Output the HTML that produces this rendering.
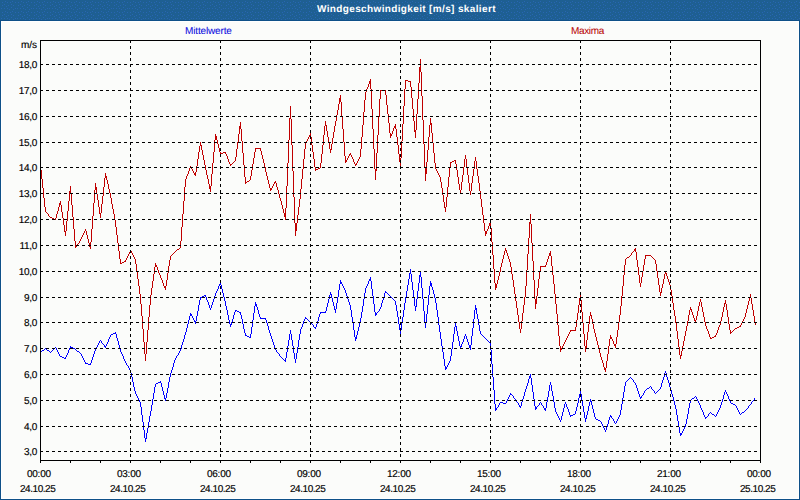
<!DOCTYPE html>
<html><head><meta charset="utf-8"><style>
html,body{margin:0;padding:0;width:800px;height:500px;overflow:hidden;background:#fbfcfa}
.t{position:absolute;font-family:"Liberation Sans",sans-serif;white-space:nowrap;color:#000;-webkit-text-stroke:0.15px currentColor;text-rendering:geometricPrecision;font-size:10px;line-height:16px}
.r{text-align:right}
</style></head><body>
<svg width="800" height="500" viewBox="0 0 800 500" shape-rendering="crispEdges" style="position:absolute;left:0;top:0"><rect x="0" y="0" width="800" height="500" fill="#fbfcfa"/><defs><pattern id="dz" width="16" height="10" patternUnits="userSpaceOnUse"><rect width="16" height="10" fill="#1e5f92"/><path fill="#2866b2" d="M5 1h1v1h-1zM12 1h1v1h-1zM2 2h1v1h-1zM7 2h1v1h-1zM10 2h1v1h-1zM15 2h1v1h-1zM4 4h1v1h-1zM11 4h1v1h-1zM2 5h1v1h-1zM8 5h1v1h-1zM13 5h1v1h-1zM6 6h1v1h-1zM11 7h1v1h-1zM1 8h1v1h-1zM4 8h1v1h-1zM7 8h1v1h-1zM15 8h1v1h-1zM9 9h1v1h-1zM13 9h1v1h-1z"/></pattern></defs><rect x="0" y="0" width="800" height="20" fill="url(#dz)"/><path fill="#fff" d="M1 21h798v1h-798zM1 21h1v478h-1zM798 21h1v478h-1zM1 498h798v1h-798z"/><rect x="0" y="20" width="800" height="1" fill="#0e5088"/><rect x="0" y="20" width="1" height="480" fill="#0e5088"/><rect x="799" y="20" width="1" height="480" fill="#0e5088"/><rect x="0" y="499" width="800" height="1" fill="#0e5088"/><path fill="#c00000" d="M40 165h1v5h-1zM41 170h1v9h-1zM42 179h1v9h-1zM43 188h1v10h-1zM44 198h1v9h-1zM45 207h1v5h-1zM48 214h1v2h-1zM55 218h1v2h-1zM56 214h1v4h-1zM57 211h1v3h-1zM58 207h1v4h-1zM59 203h1v4h-1zM60 201h1v4h-1zM61 205h1v7h-1zM62 212h1v6h-1zM63 218h1v7h-1zM64 225h1v7h-1zM65 231h1v5h-1zM66 221h1v10h-1zM67 211h1v10h-1zM68 201h1v10h-1zM69 191h1v10h-1zM70 186h1v7h-1zM71 193h1v12h-1zM72 205h1v12h-1zM73 217h1v12h-1zM74 229h1v12h-1zM75 241h1v7h-1zM76 245h1v2h-1zM79 241h1v2h-1zM80 239h1v2h-1zM81 237h1v2h-1zM82 235h1v2h-1zM83 233h1v2h-1zM84 231h1v2h-1zM85 229h1v2h-1zM86 231h1v4h-1zM87 235h1v4h-1zM88 239h1v4h-1zM89 243h1v4h-1zM90 242h1v7h-1zM91 229h1v13h-1zM92 216h1v13h-1zM93 203h1v13h-1zM94 190h1v13h-1zM95 183h1v7h-1zM96 187h1v7h-1zM97 194h1v6h-1zM98 200h1v7h-1zM99 207h1v7h-1zM100 213h1v5h-1zM101 204h1v9h-1zM102 196h1v8h-1zM103 187h1v9h-1zM104 178h1v9h-1zM105 173h1v5h-1zM106 176h1v4h-1zM107 180h1v4h-1zM108 184h1v5h-1zM109 189h1v4h-1zM110 193h1v5h-1zM111 198h1v6h-1zM112 204h1v5h-1zM113 209h1v5h-1zM114 214h1v6h-1zM115 220h1v7h-1zM116 227h1v8h-1zM117 235h1v8h-1zM118 243h1v8h-1zM119 251h1v8h-1zM120 259h1v5h-1zM125 260h1v2h-1zM126 258h1v2h-1zM127 256h1v2h-1zM128 254h1v2h-1zM129 252h1v2h-1zM130 250h1v2h-1zM131 251h1v2h-1zM132 253h1v2h-1zM133 255h1v2h-1zM134 257h1v2h-1zM135 259h1v5h-1zM136 264h1v8h-1zM137 272h1v7h-1zM138 279h1v7h-1zM139 286h1v8h-1zM140 294h1v10h-1zM141 304h1v12h-1zM142 316h1v13h-1zM143 329h1v13h-1zM144 342h1v12h-1zM145 354h1v7h-1zM146 342h1v12h-1zM147 330h1v12h-1zM148 317h1v13h-1zM149 305h1v12h-1zM150 295h1v10h-1zM151 288h1v7h-1zM152 281h1v7h-1zM153 274h1v7h-1zM154 267h1v7h-1zM155 263h1v4h-1zM156 265h1v2h-1zM157 267h1v3h-1zM158 270h1v3h-1zM159 273h1v2h-1zM160 275h1v3h-1zM161 278h1v2h-1zM162 280h1v3h-1zM163 283h1v3h-1zM164 286h1v2h-1zM165 286h1v4h-1zM166 280h1v6h-1zM167 273h1v7h-1zM168 266h1v7h-1zM169 260h1v6h-1zM170 256h1v4h-1zM180 241h1v7h-1zM181 227h1v14h-1zM182 214h1v13h-1zM183 201h1v13h-1zM184 187h1v14h-1zM185 179h1v8h-1zM186 176h1v3h-1zM187 174h1v2h-1zM188 171h1v3h-1zM189 168h1v3h-1zM190 166h1v2h-1zM191 167h1v2h-1zM192 169h1v2h-1zM193 171h1v2h-1zM194 173h1v2h-1zM195 172h1v4h-1zM196 166h1v6h-1zM197 159h1v7h-1zM198 152h1v7h-1zM199 146h1v6h-1zM200 142h1v4h-1zM201 145h1v5h-1zM202 150h1v5h-1zM203 155h1v5h-1zM204 160h1v5h-1zM205 165h1v5h-1zM206 170h1v5h-1zM207 175h1v4h-1zM208 179h1v5h-1zM209 184h1v5h-1zM210 186h1v6h-1zM211 174h1v12h-1zM212 163h1v11h-1zM213 152h1v11h-1zM214 140h1v12h-1zM215 134h1v6h-1zM216 136h1v4h-1zM217 140h1v4h-1zM218 144h1v4h-1zM219 148h1v4h-1zM220 152h1v2h-1zM225 152h1v2h-1zM226 154h1v2h-1zM227 156h1v3h-1zM228 159h1v3h-1zM229 162h1v2h-1zM230 164h1v2h-1zM235 157h1v4h-1zM236 149h1v8h-1zM237 142h1v7h-1zM238 134h1v8h-1zM239 126h1v8h-1zM240 122h1v7h-1zM241 129h1v12h-1zM242 141h1v12h-1zM243 153h1v12h-1zM244 165h1v12h-1zM245 177h1v7h-1zM250 176h1v4h-1zM251 170h1v6h-1zM252 164h1v6h-1zM253 158h1v6h-1zM254 152h1v6h-1zM255 148h1v4h-1zM260 148h1v3h-1zM261 151h1v4h-1zM262 155h1v4h-1zM263 159h1v4h-1zM264 163h1v4h-1zM265 167h1v5h-1zM266 172h1v4h-1zM267 176h1v4h-1zM268 180h1v4h-1zM269 184h1v4h-1zM270 188h1v3h-1zM271 188h1v2h-1zM272 186h1v2h-1zM273 184h1v2h-1zM274 182h1v2h-1zM275 181h1v2h-1zM276 183h1v4h-1zM277 187h1v3h-1zM278 190h1v4h-1zM279 194h1v4h-1zM280 198h1v3h-1zM281 201h1v4h-1zM282 205h1v4h-1zM283 209h1v4h-1zM284 213h1v4h-1zM285 208h1v12h-1zM286 186h1v22h-1zM287 163h1v23h-1zM288 140h1v23h-1zM289 118h1v22h-1zM290 106h1v13h-1zM291 119h1v26h-1zM292 145h1v26h-1zM293 171h1v26h-1zM294 197h1v26h-1zM295 223h1v13h-1zM296 223h1v8h-1zM297 215h1v8h-1zM298 207h1v8h-1zM299 199h1v8h-1zM300 189h1v10h-1zM301 179h1v10h-1zM302 169h1v10h-1zM303 159h1v10h-1zM304 149h1v10h-1zM305 143h1v6h-1zM306 141h1v2h-1zM307 139h1v2h-1zM308 137h1v2h-1zM309 135h1v2h-1zM310 133h1v4h-1zM311 137h1v8h-1zM312 145h1v7h-1zM313 152h1v7h-1zM314 159h1v8h-1zM315 167h1v4h-1zM320 163h1v5h-1zM321 154h1v9h-1zM322 145h1v9h-1zM323 135h1v10h-1zM324 126h1v9h-1zM325 121h1v5h-1zM326 125h1v6h-1zM327 131h1v6h-1zM328 137h1v6h-1zM329 143h1v6h-1zM330 149h1v4h-1zM331 144h1v6h-1zM332 138h1v6h-1zM333 132h1v6h-1zM334 126h1v6h-1zM335 121h1v5h-1zM336 115h1v6h-1zM337 110h1v5h-1zM338 104h1v6h-1zM339 98h1v6h-1zM340 95h1v7h-1zM341 102h1v14h-1zM342 116h1v13h-1zM343 129h1v13h-1zM344 142h1v14h-1zM345 156h1v7h-1zM346 160h1v2h-1zM347 158h1v2h-1zM348 156h1v2h-1zM349 154h1v2h-1zM350 153h1v2h-1zM351 155h1v2h-1zM352 157h1v2h-1zM353 159h1v3h-1zM354 162h1v2h-1zM355 164h1v2h-1zM356 163h1v2h-1zM357 161h1v2h-1zM358 159h1v2h-1zM359 157h1v2h-1zM360 149h1v8h-1zM361 137h1v12h-1zM362 125h1v12h-1zM363 112h1v13h-1zM364 100h1v12h-1zM365 92h1v8h-1zM366 89h1v3h-1zM367 87h1v2h-1zM368 84h1v3h-1zM369 81h1v3h-1zM370 79h1v10h-1zM371 89h1v20h-1zM372 109h1v20h-1zM373 129h1v20h-1zM374 149h1v20h-1zM375 169h1v11h-1zM376 153h1v18h-1zM377 135h1v18h-1zM378 117h1v18h-1zM379 99h1v18h-1zM380 90h1v9h-1zM385 90h1v5h-1zM386 95h1v10h-1zM387 105h1v9h-1zM388 114h1v9h-1zM389 123h1v10h-1zM390 133h1v5h-1zM391 134h1v2h-1zM392 131h1v3h-1zM393 128h1v3h-1zM394 126h1v2h-1zM395 124h1v5h-1zM396 129h1v8h-1zM397 137h1v8h-1zM398 145h1v9h-1zM399 154h1v8h-1zM400 158h1v9h-1zM401 141h1v17h-1zM402 124h1v17h-1zM403 106h1v18h-1zM404 89h1v17h-1zM405 80h1v9h-1zM410 81h1v6h-1zM411 87h1v11h-1zM412 98h1v11h-1zM413 109h1v12h-1zM414 121h1v11h-1zM415 130h1v8h-1zM416 114h1v16h-1zM417 99h1v15h-1zM418 83h1v16h-1zM419 67h1v16h-1zM420 59h1v13h-1zM421 72h1v24h-1zM422 96h1v24h-1zM423 120h1v24h-1zM424 144h1v24h-1zM425 168h1v13h-1zM426 162h1v12h-1zM427 150h1v12h-1zM428 137h1v13h-1zM429 125h1v12h-1zM430 118h1v7h-1zM431 123h1v10h-1zM432 133h1v10h-1zM433 143h1v10h-1zM434 153h1v10h-1zM435 163h1v6h-1zM436 169h1v2h-1zM437 171h1v2h-1zM438 173h1v2h-1zM439 175h1v2h-1zM440 177h1v5h-1zM441 182h1v6h-1zM442 188h1v7h-1zM443 195h1v7h-1zM444 202h1v6h-1zM445 207h1v5h-1zM446 197h1v10h-1zM447 187h1v10h-1zM448 177h1v10h-1zM449 167h1v10h-1zM450 162h1v5h-1zM455 160h1v4h-1zM456 164h1v6h-1zM457 170h1v7h-1zM458 177h1v7h-1zM459 184h1v6h-1zM460 190h1v4h-1zM461 182h1v8h-1zM462 175h1v7h-1zM463 167h1v8h-1zM464 159h1v8h-1zM465 155h1v4h-1zM466 159h1v8h-1zM467 167h1v8h-1zM468 175h1v8h-1zM469 183h1v8h-1zM470 191h1v4h-1zM471 183h1v8h-1zM472 176h1v7h-1zM473 169h1v7h-1zM474 161h1v8h-1zM475 157h1v4h-1zM476 161h1v8h-1zM477 169h1v7h-1zM478 176h1v7h-1zM479 183h1v8h-1zM480 191h1v8h-1zM481 199h1v8h-1zM482 207h1v8h-1zM483 215h1v8h-1zM484 223h1v8h-1zM485 231h1v5h-1zM486 231h1v3h-1zM487 229h1v2h-1zM488 226h1v3h-1zM489 223h1v3h-1zM490 221h1v7h-1zM491 228h1v14h-1zM492 242h1v13h-1zM493 255h1v14h-1zM494 269h1v14h-1zM495 283h1v7h-1zM496 284h1v4h-1zM497 280h1v4h-1zM498 276h1v4h-1zM499 272h1v4h-1zM500 267h1v5h-1zM501 263h1v4h-1zM502 259h1v4h-1zM503 255h1v4h-1zM504 251h1v4h-1zM505 248h1v3h-1zM506 250h1v3h-1zM507 253h1v3h-1zM508 256h1v3h-1zM509 259h1v3h-1zM510 262h1v5h-1zM511 267h1v7h-1zM512 274h1v6h-1zM513 280h1v7h-1zM514 287h1v7h-1zM515 294h1v7h-1zM516 301h1v7h-1zM517 308h1v7h-1zM518 315h1v7h-1zM519 322h1v7h-1zM520 329h1v4h-1zM521 321h1v8h-1zM522 313h1v8h-1zM523 305h1v8h-1zM524 297h1v8h-1zM525 286h1v11h-1zM526 270h1v16h-1zM527 254h1v16h-1zM528 238h1v16h-1zM529 222h1v16h-1zM530 214h1v10h-1zM531 224h1v19h-1zM532 243h1v18h-1zM533 261h1v19h-1zM534 280h1v19h-1zM535 299h1v10h-1zM536 296h1v8h-1zM537 288h1v8h-1zM538 279h1v9h-1zM539 271h1v8h-1zM540 266h1v5h-1zM545 265h1v2h-1zM546 262h1v3h-1zM547 259h1v3h-1zM548 256h1v3h-1zM549 253h1v3h-1zM550 251h1v5h-1zM551 256h1v10h-1zM552 266h1v9h-1zM553 275h1v9h-1zM554 284h1v10h-1zM555 294h1v10h-1zM556 304h1v10h-1zM557 314h1v11h-1zM558 325h1v11h-1zM559 336h1v10h-1zM560 346h1v6h-1zM561 348h1v2h-1zM562 346h1v2h-1zM563 344h1v2h-1zM564 342h1v2h-1zM565 340h1v2h-1zM566 338h1v2h-1zM567 336h1v2h-1zM568 334h1v2h-1zM569 332h1v2h-1zM570 330h1v2h-1zM575 327h1v4h-1zM576 320h1v7h-1zM577 313h1v7h-1zM578 305h1v8h-1zM579 298h1v7h-1zM580 294h1v6h-1zM581 300h1v12h-1zM582 312h1v11h-1zM583 323h1v11h-1zM584 334h1v12h-1zM585 346h1v6h-1zM586 340h1v8h-1zM587 332h1v8h-1zM588 324h1v8h-1zM589 316h1v8h-1zM590 312h1v4h-1zM591 315h1v4h-1zM592 319h1v5h-1zM593 324h1v5h-1zM594 329h1v4h-1zM595 333h1v4h-1zM596 337h1v4h-1zM597 341h1v4h-1zM598 345h1v4h-1zM599 349h1v4h-1zM600 353h1v4h-1zM601 357h1v3h-1zM602 360h1v3h-1zM603 363h1v4h-1zM604 367h1v3h-1zM605 368h1v4h-1zM606 361h1v7h-1zM607 354h1v7h-1zM608 346h1v8h-1zM609 339h1v7h-1zM610 335h1v4h-1zM611 337h1v2h-1zM612 339h1v2h-1zM613 341h1v3h-1zM614 344h1v2h-1zM615 344h1v4h-1zM616 337h1v7h-1zM617 330h1v7h-1zM618 322h1v8h-1zM619 315h1v7h-1zM620 306h1v9h-1zM621 296h1v10h-1zM622 286h1v10h-1zM623 275h1v11h-1zM624 265h1v10h-1zM625 259h1v6h-1zM631 253h1v2h-1zM634 249h1v2h-1zM635 248h1v4h-1zM636 252h1v8h-1zM637 260h1v7h-1zM638 267h1v8h-1zM639 275h1v8h-1zM640 283h1v4h-1zM641 277h1v6h-1zM642 271h1v6h-1zM643 265h1v6h-1zM644 259h1v6h-1zM645 255h1v4h-1zM655 260h1v4h-1zM656 264h1v7h-1zM657 271h1v7h-1zM658 278h1v7h-1zM659 285h1v7h-1zM660 292h1v4h-1zM661 288h1v5h-1zM662 284h1v4h-1zM663 279h1v5h-1zM664 274h1v5h-1zM665 271h1v3h-1zM666 273h1v3h-1zM667 276h1v3h-1zM668 279h1v3h-1zM669 282h1v3h-1zM670 285h1v5h-1zM671 290h1v6h-1zM672 296h1v7h-1zM673 303h1v7h-1zM674 310h1v6h-1zM675 316h1v7h-1zM676 323h1v8h-1zM677 331h1v8h-1zM678 339h1v8h-1zM679 347h1v8h-1zM680 355h1v4h-1zM681 351h1v5h-1zM682 346h1v5h-1zM683 341h1v5h-1zM684 336h1v5h-1zM685 331h1v5h-1zM686 326h1v5h-1zM687 321h1v5h-1zM688 315h1v6h-1zM689 310h1v5h-1zM690 307h1v3h-1zM691 309h1v3h-1zM692 312h1v3h-1zM693 315h1v3h-1zM694 318h1v3h-1zM695 320h1v3h-1zM696 316h1v4h-1zM697 311h1v5h-1zM698 306h1v5h-1zM699 302h1v4h-1zM700 299h1v3h-1zM701 302h1v5h-1zM702 307h1v5h-1zM703 312h1v5h-1zM704 317h1v5h-1zM705 322h1v4h-1zM706 326h1v3h-1zM707 329h1v2h-1zM708 331h1v3h-1zM709 334h1v3h-1zM710 337h1v2h-1zM715 335h1v2h-1zM716 333h1v2h-1zM717 330h1v3h-1zM718 327h1v3h-1zM719 325h1v2h-1zM720 321h1v4h-1zM721 317h1v4h-1zM722 312h1v5h-1zM723 307h1v5h-1zM724 303h1v4h-1zM725 300h1v4h-1zM726 304h1v6h-1zM727 310h1v7h-1zM728 317h1v7h-1zM729 324h1v6h-1zM730 330h1v4h-1zM740 325h1v2h-1zM741 323h1v2h-1zM742 321h1v2h-1zM743 319h1v2h-1zM744 317h1v2h-1zM745 313h1v4h-1zM746 309h1v4h-1zM747 305h1v4h-1zM748 301h1v4h-1zM749 297h1v4h-1zM750 294h1v4h-1zM751 298h1v6h-1zM752 304h1v6h-1zM753 310h1v6h-1zM754 316h1v6h-1zM755 322h1v3h-1zM46 212h1v1h-1zM47 213h1v1h-1zM49 216h1v1h-1zM50 217h2v1h-2zM52 218h2v1h-2zM54 219h1v1h-1zM77 244h1v1h-1zM78 243h1v1h-1zM121 263h1v1h-1zM122 262h2v1h-2zM124 261h1v1h-1zM171 255h1v1h-1zM630 255h1v1h-1zM646 255h5v1h-5zM172 254h1v1h-1zM173 253h1v1h-1zM174 252h1v1h-1zM632 252h1v1h-1zM175 251h1v1h-1zM633 251h1v1h-1zM176 250h1v1h-1zM177 249h2v1h-2zM179 248h1v1h-1zM221 153h2v1h-2zM223 152h2v1h-2zM231 164h1v1h-1zM232 163h1v1h-1zM233 162h1v1h-1zM451 162h1v1h-1zM234 161h1v1h-1zM452 161h2v1h-2zM246 182h1v1h-1zM247 181h2v1h-2zM249 180h1v1h-1zM256 148h4v1h-4zM316 169h2v1h-2zM318 168h2v1h-2zM381 90h4v1h-4zM406 80h2v1h-2zM408 81h2v1h-2zM454 160h1v1h-1zM541 266h4v1h-4zM571 330h4v1h-4zM733 330h1v1h-1zM626 258h1v1h-1zM653 258h1v1h-1zM627 257h2v1h-2zM652 257h1v1h-1zM629 256h1v1h-1zM651 256h1v1h-1zM654 259h1v1h-1zM711 338h1v1h-1zM712 337h2v1h-2zM714 336h1v1h-1zM731 332h1v1h-1zM732 331h1v1h-1zM734 329h1v1h-1zM735 328h2v1h-2zM737 327h2v1h-2zM739 326h1v1h-1z"/><path fill="#0000ff" d="M56 348h1v2h-1zM57 350h1v2h-1zM58 352h1v2h-1zM59 354h1v2h-1zM65 357h1v2h-1zM66 355h1v2h-1zM67 353h1v2h-1zM68 350h1v3h-1zM69 348h1v2h-1zM70 346h1v2h-1zM81 354h1v2h-1zM82 356h1v2h-1zM83 358h1v2h-1zM84 360h1v2h-1zM85 362h1v2h-1zM90 363h1v2h-1zM91 360h1v3h-1zM92 357h1v3h-1zM93 354h1v3h-1zM94 351h1v3h-1zM95 349h1v2h-1zM96 347h1v2h-1zM97 345h1v2h-1zM98 343h1v2h-1zM99 341h1v2h-1zM101 341h1v2h-1zM104 345h1v2h-1zM105 346h1v2h-1zM106 344h1v2h-1zM107 342h1v2h-1zM108 339h1v3h-1zM109 337h1v2h-1zM110 335h1v2h-1zM115 332h1v2h-1zM116 334h1v4h-1zM117 338h1v3h-1zM118 341h1v4h-1zM119 345h1v4h-1zM120 349h1v3h-1zM121 352h1v2h-1zM122 354h1v2h-1zM123 356h1v3h-1zM124 359h1v2h-1zM125 361h1v2h-1zM126 363h1v2h-1zM128 366h1v2h-1zM129 368h1v2h-1zM130 370h1v3h-1zM131 373h1v4h-1zM132 377h1v5h-1zM133 382h1v5h-1zM134 387h1v4h-1zM135 391h1v3h-1zM136 394h1v2h-1zM137 396h1v2h-1zM138 398h1v2h-1zM139 400h1v2h-1zM140 402h1v5h-1zM141 407h1v8h-1zM142 415h1v7h-1zM143 422h1v8h-1zM144 430h1v8h-1zM145 438h1v4h-1zM146 433h1v6h-1zM147 428h1v5h-1zM148 422h1v6h-1zM149 416h1v6h-1zM150 411h1v5h-1zM151 405h1v6h-1zM152 399h1v6h-1zM153 393h1v6h-1zM154 387h1v6h-1zM155 384h1v3h-1zM160 381h1v2h-1zM161 383h1v4h-1zM162 387h1v4h-1zM163 391h1v4h-1zM164 395h1v4h-1zM165 398h1v3h-1zM166 393h1v5h-1zM167 388h1v5h-1zM168 382h1v6h-1zM169 377h1v5h-1zM170 373h1v4h-1zM171 370h1v3h-1zM172 367h1v3h-1zM173 363h1v4h-1zM174 360h1v3h-1zM175 358h1v2h-1zM176 356h1v2h-1zM178 353h1v2h-1zM179 351h1v2h-1zM180 349h1v2h-1zM181 345h1v4h-1zM182 342h1v3h-1zM183 339h1v3h-1zM184 335h1v4h-1zM185 332h1v3h-1zM186 328h1v4h-1zM187 324h1v4h-1zM188 320h1v4h-1zM189 316h1v4h-1zM190 313h1v3h-1zM191 314h1v2h-1zM192 316h1v2h-1zM193 318h1v2h-1zM194 320h1v2h-1zM195 321h1v3h-1zM196 316h1v5h-1zM197 311h1v5h-1zM198 305h1v6h-1zM199 300h1v5h-1zM200 297h1v3h-1zM205 295h1v2h-1zM206 297h1v3h-1zM207 300h1v2h-1zM208 302h1v3h-1zM209 305h1v3h-1zM210 308h1v2h-1zM211 305h1v3h-1zM212 302h1v3h-1zM213 299h1v3h-1zM214 296h1v3h-1zM215 293h1v3h-1zM216 291h1v2h-1zM217 289h1v2h-1zM218 286h1v3h-1zM219 284h1v2h-1zM220 282h1v3h-1zM221 285h1v4h-1zM222 289h1v4h-1zM223 293h1v4h-1zM224 297h1v4h-1zM225 301h1v5h-1zM226 306h1v4h-1zM227 310h1v5h-1zM228 315h1v5h-1zM229 320h1v4h-1zM230 324h1v3h-1zM231 322h1v3h-1zM232 319h1v3h-1zM233 315h1v4h-1zM234 312h1v3h-1zM235 310h1v2h-1zM240 312h1v3h-1zM241 315h1v4h-1zM242 319h1v5h-1zM243 324h1v5h-1zM244 329h1v4h-1zM245 333h1v3h-1zM250 334h1v4h-1zM251 327h1v7h-1zM252 320h1v7h-1zM253 313h1v7h-1zM254 306h1v7h-1zM255 302h1v4h-1zM256 304h1v3h-1zM257 307h1v3h-1zM258 310h1v4h-1zM259 314h1v3h-1zM260 317h1v2h-1zM265 318h1v2h-1zM266 320h1v3h-1zM267 323h1v3h-1zM268 326h1v4h-1zM269 330h1v3h-1zM270 333h1v3h-1zM271 336h1v3h-1zM272 339h1v3h-1zM273 342h1v3h-1zM274 345h1v3h-1zM275 348h1v2h-1zM276 350h1v2h-1zM279 354h1v2h-1zM285 358h1v4h-1zM286 352h1v6h-1zM287 346h1v6h-1zM288 340h1v6h-1zM289 334h1v6h-1zM290 330h1v4h-1zM291 334h1v6h-1zM292 340h1v6h-1zM293 346h1v7h-1zM294 353h1v6h-1zM295 359h1v4h-1zM296 353h1v6h-1zM297 347h1v6h-1zM298 340h1v7h-1zM299 334h1v6h-1zM300 329h1v5h-1zM301 327h1v2h-1zM302 324h1v3h-1zM303 321h1v3h-1zM304 319h1v2h-1zM305 317h1v2h-1zM313 325h1v2h-1zM315 327h1v2h-1zM316 324h1v3h-1zM317 321h1v3h-1zM318 317h1v4h-1zM319 314h1v3h-1zM320 312h1v2h-1zM325 311h1v2h-1zM326 307h1v4h-1zM327 303h1v4h-1zM328 299h1v4h-1zM329 295h1v4h-1zM330 292h1v3h-1zM331 294h1v4h-1zM332 298h1v4h-1zM333 302h1v4h-1zM334 306h1v4h-1zM335 309h1v4h-1zM336 303h1v6h-1zM337 297h1v6h-1zM338 290h1v7h-1zM339 284h1v6h-1zM340 280h1v4h-1zM341 282h1v2h-1zM342 284h1v2h-1zM343 286h1v2h-1zM344 288h1v2h-1zM345 290h1v3h-1zM346 293h1v3h-1zM347 296h1v3h-1zM348 299h1v3h-1zM349 302h1v3h-1zM350 305h1v5h-1zM351 310h1v7h-1zM352 317h1v6h-1zM353 323h1v7h-1zM354 330h1v7h-1zM355 337h1v4h-1zM356 335h1v4h-1zM357 331h1v4h-1zM358 327h1v4h-1zM359 323h1v4h-1zM360 318h1v5h-1zM361 312h1v6h-1zM362 306h1v6h-1zM363 299h1v7h-1zM364 293h1v6h-1zM365 288h1v5h-1zM366 286h1v2h-1zM367 284h1v2h-1zM368 281h1v3h-1zM369 279h1v2h-1zM370 277h1v4h-1zM371 281h1v8h-1zM372 289h1v7h-1zM373 296h1v8h-1zM374 304h1v8h-1zM375 312h1v4h-1zM376 313h1v2h-1zM379 309h1v2h-1zM380 307h1v2h-1zM381 303h1v4h-1zM382 300h1v3h-1zM383 297h1v3h-1zM384 293h1v4h-1zM385 291h1v2h-1zM395 301h1v4h-1zM396 305h1v6h-1zM397 311h1v6h-1zM398 317h1v7h-1zM399 324h1v6h-1zM400 330h1v4h-1zM401 323h1v7h-1zM402 317h1v6h-1zM403 310h1v7h-1zM404 303h1v7h-1zM405 297h1v6h-1zM406 291h1v6h-1zM407 285h1v6h-1zM408 279h1v6h-1zM409 273h1v6h-1zM410 269h1v5h-1zM411 274h1v8h-1zM412 282h1v8h-1zM413 290h1v8h-1zM414 298h1v8h-1zM415 306h1v5h-1zM416 299h1v8h-1zM417 291h1v8h-1zM418 283h1v8h-1zM419 275h1v8h-1zM420 271h1v6h-1zM421 277h1v11h-1zM422 288h1v11h-1zM423 299h1v12h-1zM424 311h1v11h-1zM425 322h1v6h-1zM426 314h1v9h-1zM427 305h1v9h-1zM428 295h1v10h-1zM429 286h1v9h-1zM430 281h1v5h-1zM431 283h1v4h-1zM432 287h1v3h-1zM433 290h1v4h-1zM434 294h1v4h-1zM435 298h1v5h-1zM436 303h1v7h-1zM437 310h1v7h-1zM438 317h1v8h-1zM439 325h1v7h-1zM440 332h1v7h-1zM441 339h1v7h-1zM442 346h1v6h-1zM443 352h1v7h-1zM444 359h1v7h-1zM445 366h1v4h-1zM446 367h1v2h-1zM447 365h1v2h-1zM448 363h1v2h-1zM449 361h1v2h-1zM450 356h1v5h-1zM451 349h1v7h-1zM452 342h1v7h-1zM453 334h1v8h-1zM454 327h1v7h-1zM455 323h1v4h-1zM456 326h1v5h-1zM457 331h1v5h-1zM458 336h1v5h-1zM459 341h1v5h-1zM460 346h1v3h-1zM461 344h1v3h-1zM462 342h1v2h-1zM463 339h1v3h-1zM464 336h1v3h-1zM465 334h1v2h-1zM466 336h1v3h-1zM467 339h1v3h-1zM468 342h1v3h-1zM469 345h1v3h-1zM470 345h1v5h-1zM471 336h1v9h-1zM472 328h1v8h-1zM473 319h1v9h-1zM474 310h1v9h-1zM475 305h1v5h-1zM476 308h1v6h-1zM477 314h1v5h-1zM478 319h1v6h-1zM479 325h1v6h-1zM480 331h1v3h-1zM490 343h1v7h-1zM491 350h1v14h-1zM492 364h1v13h-1zM493 377h1v13h-1zM494 390h1v14h-1zM495 404h1v7h-1zM496 408h1v2h-1zM498 405h1v2h-1zM499 403h1v2h-1zM506 401h1v2h-1zM507 399h1v2h-1zM508 397h1v2h-1zM509 395h1v2h-1zM510 393h1v2h-1zM513 396h1v2h-1zM516 400h1v2h-1zM518 403h1v2h-1zM519 405h1v2h-1zM520 406h1v2h-1zM521 402h1v4h-1zM522 399h1v3h-1zM523 396h1v3h-1zM524 392h1v4h-1zM525 389h1v3h-1zM526 386h1v3h-1zM527 383h1v3h-1zM528 379h1v4h-1zM529 376h1v3h-1zM530 374h1v4h-1zM531 378h1v7h-1zM532 385h1v7h-1zM533 392h1v7h-1zM534 399h1v7h-1zM535 406h1v4h-1zM536 407h1v2h-1zM539 403h1v2h-1zM541 403h1v2h-1zM543 406h1v2h-1zM544 408h1v2h-1zM545 408h1v3h-1zM546 402h1v6h-1zM547 397h1v5h-1zM548 391h1v6h-1zM549 385h1v6h-1zM550 382h1v3h-1zM551 385h1v6h-1zM552 391h1v5h-1zM553 396h1v6h-1zM554 402h1v6h-1zM555 408h1v4h-1zM556 412h1v2h-1zM557 414h1v2h-1zM558 416h1v2h-1zM559 418h1v2h-1zM560 420h1v2h-1zM561 416h1v4h-1zM562 412h1v4h-1zM563 408h1v4h-1zM564 404h1v4h-1zM565 402h1v2h-1zM566 404h1v3h-1zM567 407h1v2h-1zM568 409h1v3h-1zM569 412h1v3h-1zM570 415h1v2h-1zM575 411h1v3h-1zM576 407h1v4h-1zM577 403h1v4h-1zM578 398h1v5h-1zM579 394h1v4h-1zM580 391h1v3h-1zM581 394h1v6h-1zM582 400h1v6h-1zM583 406h1v6h-1zM584 412h1v6h-1zM585 418h1v4h-1zM586 415h1v4h-1zM587 411h1v4h-1zM588 406h1v5h-1zM589 402h1v4h-1zM590 399h1v3h-1zM591 401h1v4h-1zM592 405h1v4h-1zM593 409h1v4h-1zM594 413h1v4h-1zM595 417h1v2h-1zM601 422h1v2h-1zM602 424h1v2h-1zM603 426h1v2h-1zM604 428h1v2h-1zM605 430h1v2h-1zM606 427h1v3h-1zM607 424h1v3h-1zM608 420h1v4h-1zM609 417h1v3h-1zM610 415h1v2h-1zM611 416h1v2h-1zM613 419h1v2h-1zM614 421h1v2h-1zM616 421h1v2h-1zM617 419h1v2h-1zM618 417h1v2h-1zM619 415h1v2h-1zM620 410h1v5h-1zM621 404h1v6h-1zM622 398h1v6h-1zM623 392h1v6h-1zM624 386h1v6h-1zM625 382h1v4h-1zM633 380h1v2h-1zM635 383h1v2h-1zM636 385h1v3h-1zM637 388h1v3h-1zM638 391h1v3h-1zM639 394h1v3h-1zM640 397h1v2h-1zM641 396h1v2h-1zM643 393h1v2h-1zM644 391h1v2h-1zM651 387h1v2h-1zM654 391h1v2h-1zM660 387h1v2h-1zM661 383h1v4h-1zM662 380h1v3h-1zM663 377h1v3h-1zM664 373h1v4h-1zM665 371h1v2h-1zM666 373h1v4h-1zM667 377h1v3h-1zM668 380h1v3h-1zM669 383h1v4h-1zM670 387h1v3h-1zM671 390h1v4h-1zM672 394h1v3h-1zM673 397h1v4h-1zM674 401h1v4h-1zM675 405h1v4h-1zM676 409h1v6h-1zM677 415h1v6h-1zM678 421h1v6h-1zM679 427h1v6h-1zM680 433h1v3h-1zM681 433h1v2h-1zM682 431h1v2h-1zM683 429h1v2h-1zM684 427h1v2h-1zM685 424h1v3h-1zM686 419h1v5h-1zM687 414h1v5h-1zM688 408h1v6h-1zM689 403h1v5h-1zM690 400h1v3h-1zM696 397h1v2h-1zM697 399h1v2h-1zM698 401h1v2h-1zM699 403h1v2h-1zM700 405h1v3h-1zM701 408h1v2h-1zM702 410h1v2h-1zM703 412h1v3h-1zM704 415h1v2h-1zM705 417h1v2h-1zM708 414h1v2h-1zM716 414h1v2h-1zM717 412h1v2h-1zM718 410h1v2h-1zM719 408h1v2h-1zM720 405h1v3h-1zM721 402h1v3h-1zM722 399h1v3h-1zM723 395h1v4h-1zM724 392h1v3h-1zM725 390h1v2h-1zM726 392h1v2h-1zM727 394h1v2h-1zM728 396h1v3h-1zM729 399h1v2h-1zM730 401h1v2h-1zM736 406h1v2h-1zM737 408h1v2h-1zM738 410h1v2h-1zM739 412h1v2h-1zM748 406h1v2h-1zM751 402h1v2h-1zM754 398h1v2h-1zM40 352h1v1h-1zM50 352h1v1h-1zM79 352h1v1h-1zM277 352h1v1h-1zM41 351h1v1h-1zM49 351h1v1h-1zM51 351h1v1h-1zM77 351h2v1h-2zM42 350h2v1h-2zM47 350h2v1h-2zM52 350h1v1h-1zM76 350h1v1h-1zM44 349h1v1h-1zM46 349h1v1h-1zM53 349h1v1h-1zM75 349h1v1h-1zM45 348h1v1h-1zM54 348h1v1h-1zM73 348h2v1h-2zM55 347h1v1h-1zM71 347h2v1h-2zM60 356h2v1h-2zM280 356h1v1h-1zM62 357h2v1h-2zM281 357h1v1h-1zM64 358h1v1h-1zM282 358h1v1h-1zM80 353h1v1h-1zM278 353h1v1h-1zM86 363h2v1h-2zM88 364h2v1h-2zM100 340h1v1h-1zM487 340h1v1h-1zM102 343h1v1h-1zM103 344h1v1h-1zM111 334h2v1h-2zM481 334h1v1h-1zM113 333h2v1h-2zM127 365h1v1h-1zM156 383h2v1h-2zM158 382h2v1h-2zM634 382h1v1h-1zM177 355h1v1h-1zM201 297h1v1h-1zM391 297h1v1h-1zM202 296h2v1h-2zM390 296h1v1h-1zM204 295h1v1h-1zM389 295h1v1h-1zM236 310h1v1h-1zM237 311h2v1h-2zM378 311h1v1h-1zM239 312h1v1h-1zM321 312h4v1h-4zM377 312h1v1h-1zM246 335h1v1h-1zM482 335h1v1h-1zM247 336h2v1h-2zM483 336h1v1h-1zM249 337h1v1h-1zM484 337h1v1h-1zM261 318h4v1h-4zM306 318h1v1h-1zM283 359h1v1h-1zM284 360h1v1h-1zM307 319h1v1h-1zM308 320h1v1h-1zM309 321h1v1h-1zM310 322h1v1h-1zM311 323h1v1h-1zM312 324h1v1h-1zM314 327h1v1h-1zM386 292h1v1h-1zM387 293h1v1h-1zM388 294h1v1h-1zM392 298h1v1h-1zM393 299h1v1h-1zM394 300h1v1h-1zM485 338h1v1h-1zM486 339h1v1h-1zM488 341h1v1h-1zM489 342h1v1h-1zM497 407h1v1h-1zM500 402h3v1h-3zM517 402h1v1h-1zM540 402h1v1h-1zM503 403h3v1h-3zM731 403h2v1h-2zM511 394h1v1h-1zM512 395h1v1h-1zM642 395h1v1h-1zM514 398h1v1h-1zM692 398h2v1h-2zM515 399h1v1h-1zM691 399h1v1h-1zM537 406h1v1h-1zM538 405h1v1h-1zM542 405h1v1h-1zM735 405h1v1h-1zM749 405h1v1h-1zM571 415h2v1h-2zM714 415h1v1h-1zM573 414h2v1h-2zM712 414h2v1h-2zM740 414h1v1h-1zM596 419h2v1h-2zM598 420h2v1h-2zM600 421h1v1h-1zM612 418h1v1h-1zM615 423h1v1h-1zM626 381h1v1h-1zM627 380h1v1h-1zM628 379h1v1h-1zM632 379h1v1h-1zM629 378h1v1h-1zM631 378h1v1h-1zM630 377h1v1h-1zM645 390h1v1h-1zM653 390h1v1h-1zM658 390h1v1h-1zM646 389h1v1h-1zM652 389h1v1h-1zM659 389h1v1h-1zM647 388h2v1h-2zM649 387h1v1h-1zM650 386h1v1h-1zM655 393h1v1h-1zM656 392h1v1h-1zM657 391h1v1h-1zM694 397h1v1h-1zM695 396h1v1h-1zM706 417h1v1h-1zM707 416h1v1h-1zM715 416h1v1h-1zM709 413h1v1h-1zM711 413h1v1h-1zM741 413h1v1h-1zM710 412h1v1h-1zM742 412h2v1h-2zM733 404h2v1h-2zM750 404h1v1h-1zM744 411h1v1h-1zM745 410h1v1h-1zM746 409h1v1h-1zM747 408h1v1h-1zM752 401h1v1h-1zM753 400h1v1h-1z"/><g stroke="#000" stroke-width="1" stroke-dasharray="3 3" fill="none"><line x1="40" y1="64.5" x2="760" y2="64.5"/><line x1="40" y1="90.5" x2="760" y2="90.5"/><line x1="40" y1="116.5" x2="760" y2="116.5"/><line x1="40" y1="142.5" x2="760" y2="142.5"/><line x1="40" y1="167.5" x2="760" y2="167.5"/><line x1="40" y1="193.5" x2="760" y2="193.5"/><line x1="40" y1="219.5" x2="760" y2="219.5"/><line x1="40" y1="245.5" x2="760" y2="245.5"/><line x1="40" y1="271.5" x2="760" y2="271.5"/><line x1="40" y1="297.5" x2="760" y2="297.5"/><line x1="40" y1="322.5" x2="760" y2="322.5"/><line x1="40" y1="348.5" x2="760" y2="348.5"/><line x1="40" y1="374.5" x2="760" y2="374.5"/><line x1="40" y1="400.5" x2="760" y2="400.5"/><line x1="40" y1="426.5" x2="760" y2="426.5"/><line x1="40" y1="451.5" x2="760" y2="451.5"/><line x1="130.5" y1="40" x2="130.5" y2="460"/><line x1="220.5" y1="40" x2="220.5" y2="460"/><line x1="310.5" y1="40" x2="310.5" y2="460"/><line x1="400.5" y1="40" x2="400.5" y2="460"/><line x1="490.5" y1="40" x2="490.5" y2="460"/><line x1="580.5" y1="40" x2="580.5" y2="460"/><line x1="670.5" y1="40" x2="670.5" y2="460"/></g><g fill="#000"><rect x="40" y="40" width="721" height="1"/><rect x="40" y="460" width="721" height="1"/><rect x="40" y="40" width="1" height="423"/><rect x="760" y="40" width="1" height="423"/><rect x="40" y="461" width="1" height="2"/><rect x="70" y="461" width="1" height="2"/><rect x="100" y="461" width="1" height="2"/><rect x="130" y="461" width="1" height="2"/><rect x="160" y="461" width="1" height="2"/><rect x="190" y="461" width="1" height="2"/><rect x="220" y="461" width="1" height="2"/><rect x="250" y="461" width="1" height="2"/><rect x="280" y="461" width="1" height="2"/><rect x="310" y="461" width="1" height="2"/><rect x="340" y="461" width="1" height="2"/><rect x="370" y="461" width="1" height="2"/><rect x="400" y="461" width="1" height="2"/><rect x="430" y="461" width="1" height="2"/><rect x="460" y="461" width="1" height="2"/><rect x="490" y="461" width="1" height="2"/><rect x="520" y="461" width="1" height="2"/><rect x="550" y="461" width="1" height="2"/><rect x="580" y="461" width="1" height="2"/><rect x="610" y="461" width="1" height="2"/><rect x="640" y="461" width="1" height="2"/><rect x="670" y="461" width="1" height="2"/><rect x="700" y="461" width="1" height="2"/><rect x="730" y="461" width="1" height="2"/><rect x="760" y="461" width="1" height="2"/></g></svg>
<div class="t" style="left:317px;top:2px;color:#fff;font-weight:bold;letter-spacing:0.36px;-webkit-text-stroke:0">Windgeschwindigkeit [m/s] skaliert</div><div class="t" style="left:185px;top:24px;color:#0808e0;letter-spacing:-0.15px;-webkit-text-stroke:0.05px #0808e0">Mittelwerte</div><div class="t" style="left:571px;top:24px;color:#b80000;letter-spacing:-0.35px;-webkit-text-stroke:0.05px #b80000">Maxima</div><div class="t" style="left:21px;top:38px;">m/s</div><div class="t r" style="right:763px;top:58px;letter-spacing:-0.3px">18,0</div><div class="t r" style="right:763px;top:84px;letter-spacing:-0.3px">17,0</div><div class="t r" style="right:763px;top:110px;letter-spacing:-0.3px">16,0</div><div class="t r" style="right:763px;top:136px;letter-spacing:-0.3px">15,0</div><div class="t r" style="right:763px;top:161px;letter-spacing:-0.3px">14,0</div><div class="t r" style="right:763px;top:187px;letter-spacing:-0.3px">13,0</div><div class="t r" style="right:763px;top:213px;letter-spacing:-0.3px">12,0</div><div class="t r" style="right:763px;top:239px;letter-spacing:-0.3px">11,0</div><div class="t r" style="right:763px;top:265px;letter-spacing:-0.3px">10,0</div><div class="t r" style="right:763px;top:291px;letter-spacing:-0.3px">9,0</div><div class="t r" style="right:763px;top:316px;letter-spacing:-0.3px">8,0</div><div class="t r" style="right:763px;top:342px;letter-spacing:-0.3px">7,0</div><div class="t r" style="right:763px;top:368px;letter-spacing:-0.3px">6,0</div><div class="t r" style="right:763px;top:394px;letter-spacing:-0.3px">5,0</div><div class="t r" style="right:763px;top:420px;letter-spacing:-0.3px">4,0</div><div class="t r" style="right:763px;top:445px;letter-spacing:-0.3px">3,0</div><div class="t" style="left:27px;top:467px;letter-spacing:-0.25px">00:00</div><div class="t" style="left:20px;top:482px;letter-spacing:-0.45px">24.10.25</div><div class="t" style="left:117px;top:467px;letter-spacing:-0.25px">03:00</div><div class="t" style="left:110px;top:482px;letter-spacing:-0.45px">24.10.25</div><div class="t" style="left:207px;top:467px;letter-spacing:-0.25px">06:00</div><div class="t" style="left:200px;top:482px;letter-spacing:-0.45px">24.10.25</div><div class="t" style="left:297px;top:467px;letter-spacing:-0.25px">09:00</div><div class="t" style="left:290px;top:482px;letter-spacing:-0.45px">24.10.25</div><div class="t" style="left:387px;top:467px;letter-spacing:-0.25px">12:00</div><div class="t" style="left:380px;top:482px;letter-spacing:-0.45px">24.10.25</div><div class="t" style="left:477px;top:467px;letter-spacing:-0.25px">15:00</div><div class="t" style="left:470px;top:482px;letter-spacing:-0.45px">24.10.25</div><div class="t" style="left:567px;top:467px;letter-spacing:-0.25px">18:00</div><div class="t" style="left:560px;top:482px;letter-spacing:-0.45px">24.10.25</div><div class="t" style="left:657px;top:467px;letter-spacing:-0.25px">21:00</div><div class="t" style="left:650px;top:482px;letter-spacing:-0.45px">24.10.25</div><div class="t" style="left:747px;top:467px;letter-spacing:-0.25px">00:00</div><div class="t" style="left:740px;top:482px;letter-spacing:-0.45px">25.10.25</div>
</body></html>
